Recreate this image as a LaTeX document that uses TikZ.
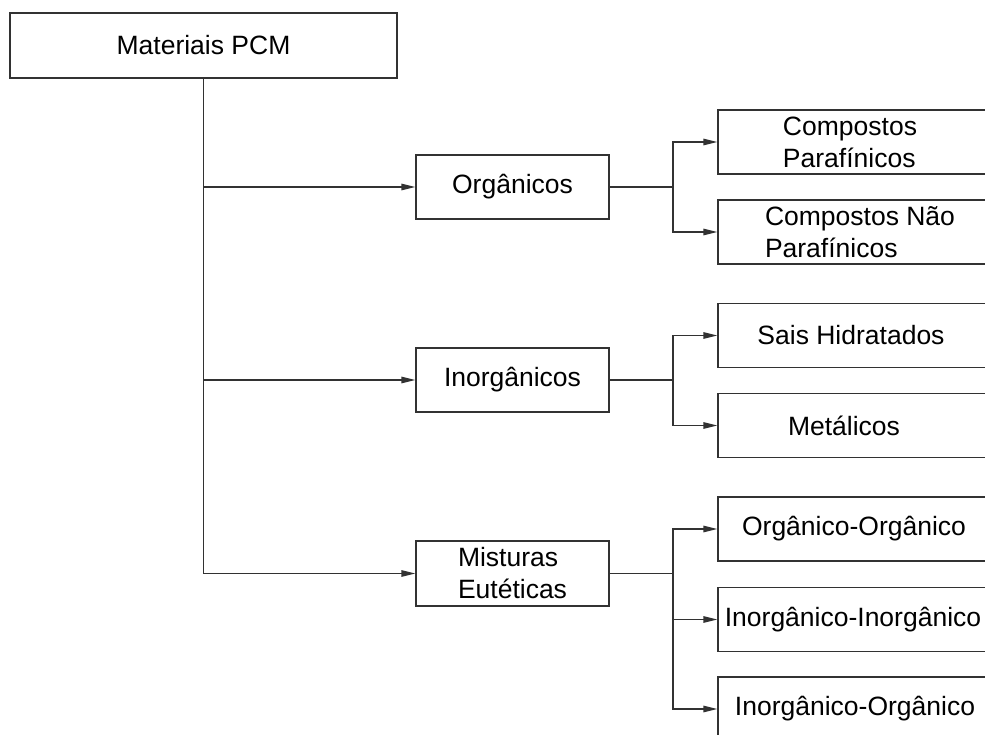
\documentclass[tikz,border=0pt]{standalone}
\usepackage{fontspec}
\setmainfont{Liberation Sans}
\usetikzlibrary{arrows.meta}
\definecolor{linec}{RGB}{50,50,50}
\begin{document}
\begin{tikzpicture}[x=1pt,y=-1pt,
  box/.style={draw=linec, line width=1.3pt, minimum height=64pt, inner sep=0pt,
    font=\fontsize{26.5}{32}\selectfont, align=left},
  mid/.style={box, minimum width=193pt},
  leaf/.style={box, minimum width=300pt},
  lbl/.style={font=\fontsize{26.5}{32}\selectfont, align=left, inner sep=0pt},
  link/.style={draw=linec, line width=1.3pt},
  tip/.style={link, -{Triangle[length=14pt,width=6.5pt]}}]
\path[use as bounding box] (0,0) rectangle (985,735);
\clip (0,0) rectangle (985,735);
\fill[white] (0,0) rectangle (985,735);

% root and the three families
\node[box, minimum width=387pt, minimum height=65pt] (root) at (203.5,45.5) {Materiais PCM};
\node[mid] (org) at (512.5,187) {Orgânicos};
\node[mid] (inorg) at (512.5,380) {Inorgânicos};
\node[mid, minimum height=65pt] (mist) at (512.5,573.5) {Misturas\\Eutéticas};

% sub-classes (right-hand column)
\node[leaf, label={[lbl, xshift=-18pt]center:Compostos\\Parafínicos}] (cp) at (868,142) {};
\node[leaf, label={[lbl, xshift=-8pt]center:Compostos Não\\Parafínicos}] (cnp) at (868,232) {};
\node[leaf, label={[lbl, xshift=-17pt]center:Sais Hidratados}] (sh) at (868,335.5) {};
\node[leaf, label={[lbl, xshift=-24pt]center:Metálicos}] (met) at (868,425.5) {};
\node[leaf, label={[lbl, xshift=-14pt]center:Orgânico-Orgânico}] (oo) at (868,529) {};
\node[leaf, label={[lbl, xshift=-15pt]center:Inorgânico-Inorgânico}] (ii) at (868,619.5) {};
\node[leaf, label={[lbl, xshift=-13pt]center:Inorgânico-Orgânico}] (io) at (868,709) {};

% trunk from the root to the families
\draw[tip] (root.south) |- (mist.west);
\draw[tip] (root.south |- org.west) -- (org.west);
\draw[tip] (root.south |- inorg.west) -- (inorg.west);

% split points
\coordinate (s1) at (673,187);
\coordinate (s2) at (673,380);
\coordinate (s3) at (673,573.5);

\draw[link] (org.east) -- (s1);
\draw[tip] (s1) |- (cp.west);
\draw[tip] (s1) |- (cnp.west);

\draw[link] (inorg.east) -- (s2);
\draw[tip] (s2) |- (sh.west);
\draw[tip] (s2) |- (met.west);

\draw[link] (mist.east) -- (s3);
\draw[tip] (s3) |- (oo.west);
\draw[tip] (s3) -- (s3 |- ii.west) -- (ii.west);
\draw[tip] (s3) |- (io.west);
\end{tikzpicture}
\end{document}
